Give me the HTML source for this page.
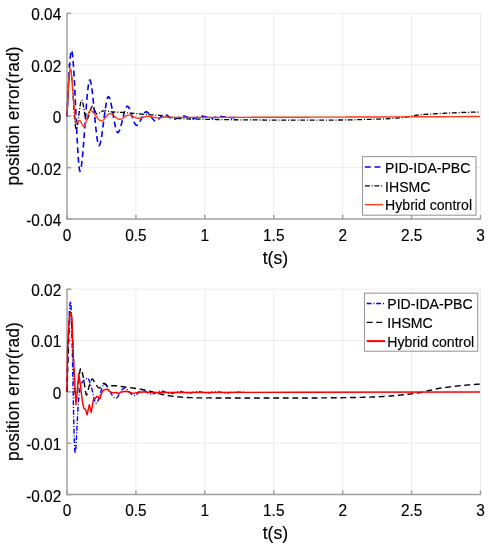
<!DOCTYPE html><html><head><meta charset="utf-8"><style>html,body{margin:0;padding:0;background:#fff;}svg{display:block;will-change:transform;} text{stroke:#000;stroke-width:0.15px;}</style></head><body>
<svg width="489" height="550" viewBox="0 0 489 550" font-family='"Liberation Sans", sans-serif' fill="#000">
<rect width="489" height="550" fill="#fff"/>
<line x1="135.92" y1="13.4" x2="135.92" y2="219.1" stroke="#ececec" stroke-width="1"/>
<line x1="204.83" y1="13.4" x2="204.83" y2="219.1" stroke="#ececec" stroke-width="1"/>
<line x1="273.75" y1="13.4" x2="273.75" y2="219.1" stroke="#ececec" stroke-width="1"/>
<line x1="342.67" y1="13.4" x2="342.67" y2="219.1" stroke="#ececec" stroke-width="1"/>
<line x1="411.58" y1="13.4" x2="411.58" y2="219.1" stroke="#ececec" stroke-width="1"/>
<line x1="480.50" y1="13.4" x2="480.50" y2="219.1" stroke="#ececec" stroke-width="1"/>
<line x1="67.0" y1="13.40" x2="480.5" y2="13.40" stroke="#ececec" stroke-width="1"/>
<line x1="67.0" y1="64.83" x2="480.5" y2="64.83" stroke="#ececec" stroke-width="1"/>
<line x1="67.0" y1="116.25" x2="480.5" y2="116.25" stroke="#ececec" stroke-width="1"/>
<line x1="67.0" y1="167.67" x2="480.5" y2="167.67" stroke="#ececec" stroke-width="1"/>
<line x1="67.0" y1="12.9" x2="67.0" y2="219.6" stroke="#a0a0a0" stroke-width="1.5"/>
<line x1="66.5" y1="219.1" x2="481.0" y2="219.1" stroke="#a0a0a0" stroke-width="1.5"/>
<line x1="67.00" y1="219.1" x2="67.00" y2="214.90" stroke="#a0a0a0" stroke-width="1.5"/>
<line x1="135.92" y1="219.1" x2="135.92" y2="214.90" stroke="#a0a0a0" stroke-width="1.5"/>
<line x1="204.83" y1="219.1" x2="204.83" y2="214.90" stroke="#a0a0a0" stroke-width="1.5"/>
<line x1="273.75" y1="219.1" x2="273.75" y2="214.90" stroke="#a0a0a0" stroke-width="1.5"/>
<line x1="342.67" y1="219.1" x2="342.67" y2="214.90" stroke="#a0a0a0" stroke-width="1.5"/>
<line x1="411.58" y1="219.1" x2="411.58" y2="214.90" stroke="#a0a0a0" stroke-width="1.5"/>
<line x1="480.50" y1="219.1" x2="480.50" y2="214.90" stroke="#a0a0a0" stroke-width="1.5"/>
<line x1="67.0" y1="13.40" x2="71.2" y2="13.40" stroke="#a0a0a0" stroke-width="1.5"/>
<line x1="67.0" y1="64.83" x2="71.2" y2="64.83" stroke="#a0a0a0" stroke-width="1.5"/>
<line x1="67.0" y1="116.25" x2="71.2" y2="116.25" stroke="#a0a0a0" stroke-width="1.5"/>
<line x1="67.0" y1="167.67" x2="71.2" y2="167.67" stroke="#a0a0a0" stroke-width="1.5"/>
<line x1="67.0" y1="219.10" x2="71.2" y2="219.10" stroke="#a0a0a0" stroke-width="1.5"/>
<path d="M67.00,116.25 L67.50,104.37 L68.00,93.28 L68.50,83.14 L69.00,74.10 L69.50,66.29 L70.00,59.88 L70.50,55.00 L71.00,51.80 L71.50,50.44 L72.00,51.20 L72.50,54.26 L73.00,59.35 L73.50,66.15 L74.00,74.35 L74.50,83.65 L75.00,93.75 L75.50,104.34 L76.00,115.11 L76.50,125.76 L77.00,135.98 L77.50,145.47 L78.00,153.92 L78.50,161.02 L79.00,166.47 L79.50,169.97 L80.00,171.20 L80.50,170.51 L81.00,168.54 L81.50,165.44 L82.00,161.36 L82.50,156.42 L83.00,150.79 L83.50,144.61 L84.00,138.02 L84.50,131.17 L85.00,124.20 L85.50,117.27 L86.00,110.50 L86.50,104.06 L87.00,98.08 L87.50,92.71 L88.00,88.10 L88.50,84.39 L89.00,81.72 L89.50,80.25 L90.00,80.09 L90.50,81.08 L91.00,83.06 L91.50,85.90 L92.00,89.47 L92.50,93.65 L93.00,98.32 L93.50,103.33 L94.00,108.58 L94.50,113.92 L95.00,119.24 L95.50,124.41 L96.00,129.30 L96.50,133.78 L97.00,137.74 L97.50,141.03 L98.00,143.54 L98.50,145.14 L99.00,145.70 L99.50,145.30 L100.00,144.15 L100.50,142.35 L101.00,139.98 L101.50,137.13 L102.00,133.89 L102.50,130.35 L103.00,126.59 L103.50,122.72 L104.00,118.80 L104.50,114.94 L105.00,111.22 L105.50,107.74 L106.00,104.57 L106.50,101.81 L107.00,99.54 L107.50,97.86 L108.00,96.86 L108.50,96.61 L109.00,97.02 L109.50,97.96 L110.00,99.37 L110.50,101.19 L111.00,103.34 L111.50,105.76 L112.00,108.40 L112.50,111.17 L113.00,114.03 L113.50,116.89 L114.00,119.71 L114.50,122.40 L115.00,124.92 L115.50,127.19 L116.00,129.15 L116.50,130.72 L117.00,131.86 L117.50,132.49 L118.00,132.57 L118.50,132.19 L119.00,131.44 L119.50,130.37 L120.00,129.01 L120.50,127.41 L121.00,125.63 L121.50,123.71 L122.00,121.68 L122.50,119.61 L123.00,117.53 L123.50,115.49 L124.00,113.54 L124.50,111.73 L125.00,110.09 L125.50,108.68 L126.00,107.55 L126.50,106.73 L127.00,106.28 L127.50,106.23 L128.00,106.51 L128.50,107.09 L129.00,107.92 L129.50,108.95 L130.00,110.17 L130.50,111.52 L131.00,112.98 L131.50,114.51 L132.00,116.06 L132.50,117.61 L133.00,119.11 L133.50,120.53 L134.00,121.84 L134.50,122.98 L135.00,123.94 L135.50,124.67 L136.00,125.14 L136.50,125.30 L137.00,125.20 L137.50,124.91 L138.00,124.45 L138.50,123.84 L139.00,123.11 L139.50,122.28 L140.00,121.36 L140.50,120.39 L141.00,119.37 L141.50,118.34 L142.00,117.32 L142.50,116.32 L143.00,115.36 L143.50,114.48 L144.00,113.68 L144.50,113.00 L145.00,112.45 L145.50,112.06 L146.00,111.84 L146.50,111.81 L147.00,111.95 L147.50,112.22 L148.00,112.61 L148.50,113.10 L149.00,113.68 L149.50,114.32 L150.00,115.01 L150.50,115.73 L151.00,116.47 L151.50,117.21 L152.00,117.93 L152.50,118.61 L153.00,119.24 L153.50,119.80 L154.00,120.28 L154.50,120.64 L155.00,120.89 L155.50,121.00 L156.00,120.96 L156.50,120.82 L157.00,120.57 L157.50,120.24 L158.00,119.84 L158.50,119.39 L159.00,118.89 L159.50,118.36 L160.00,117.81 L160.50,117.26 L161.00,116.72 L161.50,116.21 L162.00,115.73 L162.50,115.31 L163.00,114.95 L163.50,114.67 L164.00,114.48 L164.50,114.40 L165.00,114.43 L165.50,114.54 L166.00,114.73 L166.50,114.99 L167.00,115.29 L167.50,115.65 L168.00,116.03 L168.50,116.44 L169.00,116.86 L169.50,117.28 L170.00,117.69 L170.50,118.08 L171.00,118.44 L171.50,118.76 L172.00,119.02 L172.50,119.22 L173.00,119.35 L173.50,119.40 L174.00,119.37 L174.50,119.29 L175.00,119.17 L175.50,119.00 L176.00,118.81 L176.50,118.58 L177.00,118.34 L177.50,118.08 L178.00,117.81 L178.50,117.54 L179.00,117.27 L179.50,117.01 L180.00,116.77 L180.50,116.55 L181.00,116.36 L181.50,116.20 L182.00,116.09 L182.50,116.02 L183.00,116.00 L183.50,116.03 L184.00,116.09 L184.50,116.19 L185.00,116.32 L185.50,116.47 L186.00,116.64 L186.50,116.82 L187.00,117.02 L187.50,117.22 L188.00,117.42 L188.50,117.62 L189.00,117.82 L189.50,118.00 L190.00,118.16 L190.50,118.31 L191.00,118.43 L191.50,118.52 L192.00,118.58 L192.50,118.60 L193.00,118.58 L193.50,118.51 L194.00,118.41 L194.50,118.28 L195.00,118.13 L195.50,117.95 L196.00,117.76 L196.50,117.56 L197.00,117.35 L197.50,117.14 L198.00,116.94 L198.50,116.75 L199.00,116.57 L199.50,116.42 L200.00,116.29 L200.50,116.19 L201.00,116.12 L201.50,116.10 L202.00,116.12 L202.50,116.16 L203.00,116.23 L203.50,116.32 L204.00,116.43 L204.50,116.55 L205.00,116.68 L205.50,116.83 L206.00,116.98 L206.50,117.12 L207.00,117.27 L207.50,117.42 L208.00,117.55 L208.50,117.67 L209.00,117.78 L209.50,117.87 L210.00,117.94 L210.50,117.98 L211.00,118.00 L211.50,117.99 L212.00,117.95 L212.50,117.88 L213.00,117.80 L213.50,117.70 L214.00,117.59 L214.50,117.46 L215.00,117.33 L215.50,117.20 L216.00,117.07 L216.50,116.94 L217.00,116.81 L217.50,116.70 L218.00,116.60 L218.50,116.52 L219.00,116.45 L219.50,116.41 L220.00,116.40 L220.50,116.41 L221.00,116.44 L221.50,116.49 L222.00,116.55 L222.50,116.63 L223.00,116.71 L223.50,116.80 L224.00,116.90 L224.50,117.00 L225.00,117.10 L225.50,117.20 L226.00,117.29 L226.50,117.37 L227.00,117.45 L227.50,117.51 L228.00,117.56 L228.50,117.59 L229.00,117.60 L229.50,117.60 L230.00,117.60 L230.50,117.60 L231.00,117.60 L231.50,117.59 L232.00,117.59 L232.50,117.59 L233.00,117.58 L233.50,117.57 L234.00,117.56 L234.50,117.54 L235.00,117.53 L235.50,117.51 L236.00,117.49 L236.50,117.46 L237.00,117.43 L237.50,117.39 L238.00,117.36" fill="none" stroke="#0000ff" stroke-width="1.6" stroke-dasharray="5.9,3.7"/>
<path d="M67.00,116.25 L67.50,105.35 L68.00,95.35 L68.50,86.57 L69.00,79.31 L69.50,73.90 L70.00,70.64 L70.50,69.85 L71.00,71.58 L71.50,75.40 L72.00,80.87 L72.50,87.52 L73.00,94.91 L73.50,102.57 L74.00,110.04 L74.50,116.88 L75.00,122.62 L75.50,126.81 L76.00,128.99 L76.50,128.95 L77.00,127.52 L77.50,125.06 L78.00,121.84 L78.50,118.11 L79.00,114.15 L79.50,110.21 L80.00,106.57 L80.50,103.48 L81.00,101.20 L81.50,100.01 L82.00,100.13 L82.50,101.39 L83.00,103.52 L83.50,106.26 L84.00,109.32 L84.50,112.44 L85.00,115.34 L85.50,117.75 L86.00,119.39 L86.50,120.00 L87.00,119.73 L87.50,118.99 L88.00,117.86 L88.50,116.45 L89.00,114.85 L89.50,113.15 L90.00,111.45 L90.50,109.85 L91.00,108.44 L91.50,107.31 L92.00,106.57 L92.50,106.30 L93.00,106.56 L93.50,107.27 L94.00,108.30 L94.50,109.51 L95.00,110.79 L95.50,112.00 L96.00,113.03 L96.50,113.74 L97.00,114.00 L97.50,113.95 L98.00,113.81 L98.50,113.59 L99.00,113.31 L99.50,113.00 L100.00,112.65 L100.50,112.29 L101.00,111.94 L101.50,111.61 L102.00,111.31 L102.50,111.07 L103.00,110.90 L103.50,110.81 L104.00,110.80 L104.50,110.82 L105.00,110.85 L105.50,110.90 L106.00,110.96 L106.50,111.02 L107.00,111.10 L107.50,111.18 L108.00,111.26 L108.50,111.35 L109.00,111.44 L109.50,111.52 L110.00,111.61 L110.50,111.68 L111.00,111.76 L111.50,111.82 L112.00,111.87 L112.50,111.92 L113.00,111.95 L113.50,111.99 L114.00,112.02 L114.50,112.06 L115.00,112.09 L115.50,112.12 L116.00,112.14 L116.50,112.17 L117.00,112.20 L117.50,112.22 L118.00,112.25 L118.50,112.27 L119.00,112.30 L119.50,112.32 L120.00,112.34 L120.50,112.37 L121.00,112.39 L121.50,112.42 L122.00,112.45 L122.50,112.47 L123.00,112.50 L123.50,112.53 L124.00,112.57 L124.50,112.60 L125.00,112.64 L125.50,112.67 L126.00,112.71 L126.50,112.75 L127.00,112.79 L127.50,112.84 L128.00,112.88 L128.50,112.93 L129.00,112.97 L129.50,113.02 L130.00,113.06 L130.50,113.11 L131.00,113.16 L131.50,113.21 L132.00,113.26 L132.50,113.30 L133.00,113.35 L133.50,113.40 L134.00,113.45 L134.50,113.49 L135.00,113.54 L135.50,113.59 L136.00,113.63 L136.50,113.67 L137.00,113.72 L137.50,113.76 L138.00,113.80 L138.50,113.85 L139.00,113.89 L139.50,113.93 L140.00,113.98 L140.50,114.02 L141.00,114.06 L141.50,114.11 L142.00,114.15 L142.50,114.19 L143.00,114.23 L143.50,114.28 L144.00,114.32 L144.50,114.36 L145.00,114.40 L145.50,114.44 L146.00,114.48 L146.50,114.52 L147.00,114.55 L147.50,114.59 L148.00,114.63 L148.50,114.66 L149.00,114.70 L149.50,114.73 L150.00,114.76 L150.50,114.79 L151.00,114.82 L151.50,114.85 L152.00,114.87 L152.50,114.90 L153.00,114.92 L153.50,114.95 L154.00,114.97 L154.50,115.00 L155.00,115.03 L155.50,115.05 L156.00,115.08 L156.50,115.11 L157.00,115.15 L157.50,115.18 L158.00,115.22 L158.50,115.26 L159.00,115.31 L159.50,115.36 L160.00,115.43 L160.50,115.50 L161.00,115.59 L161.50,115.68 L162.00,115.77 L162.50,115.88 L163.00,115.98 L163.50,116.09 L164.00,116.20 L164.50,116.30 L165.00,116.41 L165.50,116.51 L166.00,116.61 L166.50,116.71 L167.00,116.80 L167.50,116.89 L168.00,116.98 L168.50,117.07 L169.00,117.16 L169.50,117.26 L170.00,117.35 L170.50,117.45 L171.00,117.54 L171.50,117.63 L172.00,117.72 L172.50,117.81 L173.00,117.90 L173.50,117.98 L174.00,118.05 L174.50,118.13 L175.00,118.19 L175.50,118.26 L176.00,118.31 L176.50,118.36 L177.00,118.40 L177.50,118.44 L178.00,118.47 L178.50,118.50 L179.00,118.54 L179.50,118.57 L180.00,118.60 L180.50,118.63 L181.00,118.65 L181.50,118.68 L182.00,118.70 L182.50,118.73 L183.00,118.75 L183.50,118.77 L184.00,118.80 L184.50,118.82 L185.00,118.84 L185.50,118.86 L186.00,118.87 L186.50,118.89 L187.00,118.91 L187.50,118.93 L188.00,118.94 L188.50,118.96 L189.00,118.97 L189.50,118.99 L190.00,119.00 L190.50,119.01 L191.00,119.03 L191.50,119.04 L192.00,119.05 L192.50,119.06 L193.00,119.07 L193.50,119.08 L194.00,119.09 L194.50,119.10 L195.00,119.11 L195.50,119.12 L196.00,119.13 L196.50,119.14 L197.00,119.15 L197.50,119.16 L198.00,119.17 L198.50,119.17 L199.00,119.18 L199.50,119.19 L200.00,119.20 L200.50,119.21 L201.00,119.22 L201.50,119.23 L202.00,119.24 L202.50,119.24 L203.00,119.25 L203.50,119.26 L204.00,119.27 L204.50,119.28 L205.00,119.29 L205.50,119.30 L206.00,119.31 L206.50,119.31 L207.00,119.32 L207.50,119.33 L208.00,119.34 L208.50,119.35 L209.00,119.36 L209.50,119.37 L210.00,119.38 L210.50,119.38 L211.00,119.39 L211.50,119.40 L212.00,119.41 L212.50,119.42 L213.00,119.43 L213.50,119.43 L214.00,119.44 L214.50,119.45 L215.00,119.46 L215.50,119.47 L216.00,119.48 L216.50,119.48 L217.00,119.49 L217.50,119.50 L218.00,119.51 L218.50,119.52 L219.00,119.53 L219.50,119.53 L220.00,119.54 L220.50,119.55 L221.00,119.56 L221.50,119.56 L222.00,119.57 L222.50,119.58 L223.00,119.59 L223.50,119.59 L224.00,119.60 L224.50,119.61 L225.00,119.62 L225.50,119.62 L226.00,119.63 L226.50,119.64 L227.00,119.65 L227.50,119.65 L228.00,119.66 L228.50,119.67 L229.00,119.67 L229.50,119.68 L230.00,119.69 L230.50,119.69 L231.00,119.70 L231.50,119.71 L232.00,119.71 L232.50,119.72 L233.00,119.72 L233.50,119.73 L234.00,119.74 L234.50,119.74 L235.00,119.75 L235.50,119.75 L236.00,119.76 L236.50,119.76 L237.00,119.77 L237.50,119.78 L238.00,119.78 L238.50,119.79 L239.00,119.79 L239.50,119.80 L240.00,119.80 L240.50,119.80 L241.00,119.81 L241.50,119.81 L242.00,119.82 L242.50,119.82 L243.00,119.83 L243.50,119.83 L244.00,119.84 L244.50,119.84 L245.00,119.85 L245.50,119.85 L246.00,119.86 L246.50,119.86 L247.00,119.87 L247.50,119.87 L248.00,119.88 L248.50,119.88 L249.00,119.89 L249.50,119.89 L250.00,119.90 L250.50,119.90 L251.00,119.90 L251.50,119.91 L252.00,119.91 L252.50,119.92 L253.00,119.92 L253.50,119.93 L254.00,119.93 L254.50,119.94 L255.00,119.94 L255.50,119.95 L256.00,119.95 L256.50,119.96 L257.00,119.96 L257.50,119.97 L258.00,119.97 L258.50,119.97 L259.00,119.98 L259.50,119.98 L260.00,119.99 L260.50,119.99 L261.00,120.00 L261.50,120.00 L262.00,120.01 L262.50,120.01 L263.00,120.01 L263.50,120.02 L264.00,120.02 L264.50,120.03 L265.00,120.03 L265.50,120.04 L266.00,120.04 L266.50,120.04 L267.00,120.05 L267.50,120.05 L268.00,120.06 L268.50,120.06 L269.00,120.06 L269.50,120.07 L270.00,120.07 L270.50,120.07 L271.00,120.08 L271.50,120.08 L272.00,120.09 L272.50,120.09 L273.00,120.09 L273.50,120.10 L274.00,120.10 L274.50,120.10 L275.00,120.11 L275.50,120.11 L276.00,120.11 L276.50,120.12 L277.00,120.12 L277.50,120.12 L278.00,120.13 L278.50,120.13 L279.00,120.13 L279.50,120.14 L280.00,120.14 L280.50,120.14 L281.00,120.14 L281.50,120.15 L282.00,120.15 L282.50,120.15 L283.00,120.15 L283.50,120.16 L284.00,120.16 L284.50,120.16 L285.00,120.16 L285.50,120.17 L286.00,120.17 L286.50,120.17 L287.00,120.17 L287.50,120.17 L288.00,120.18 L288.50,120.18 L289.00,120.18 L289.50,120.18 L290.00,120.18 L290.50,120.19 L291.00,120.19 L291.50,120.19 L292.00,120.19 L292.50,120.19 L293.00,120.19 L293.50,120.19 L294.00,120.19 L294.50,120.19 L295.00,120.20 L295.50,120.20 L296.00,120.20 L296.50,120.20 L297.00,120.20 L297.50,120.20 L298.00,120.20 L298.50,120.20 L299.00,120.20 L299.50,120.20 L300.00,120.20 L300.50,120.20 L301.00,120.20 L301.50,120.20 L302.00,120.20 L302.50,120.20 L303.00,120.20 L303.50,120.20 L304.00,120.20 L304.50,120.20 L305.00,120.20 L305.50,120.20 L306.00,120.19 L306.50,120.19 L307.00,120.19 L307.50,120.19 L308.00,120.19 L308.50,120.19 L309.00,120.19 L309.50,120.19 L310.00,120.18 L310.50,120.18 L311.00,120.18 L311.50,120.18 L312.00,120.18 L312.50,120.18 L313.00,120.17 L313.50,120.17 L314.00,120.17 L314.50,120.17 L315.00,120.17 L315.50,120.16 L316.00,120.16 L316.50,120.16 L317.00,120.16 L317.50,120.16 L318.00,120.15 L318.50,120.15 L319.00,120.15 L319.50,120.15 L320.00,120.14 L320.50,120.14 L321.00,120.14 L321.50,120.13 L322.00,120.13 L322.50,120.13 L323.00,120.13 L323.50,120.12 L324.00,120.12 L324.50,120.12 L325.00,120.11 L325.50,120.11 L326.00,120.11 L326.50,120.10 L327.00,120.10 L327.50,120.10 L328.00,120.09 L328.50,120.09 L329.00,120.09 L329.50,120.08 L330.00,120.08 L330.50,120.08 L331.00,120.07 L331.50,120.07 L332.00,120.06 L332.50,120.06 L333.00,120.06 L333.50,120.05 L334.00,120.05 L334.50,120.05 L335.00,120.04 L335.50,120.04 L336.00,120.03 L336.50,120.03 L337.00,120.03 L337.50,120.02 L338.00,120.02 L338.50,120.01 L339.00,120.01 L339.50,120.00 L340.00,120.00 L340.50,120.00 L341.00,119.99 L341.50,119.99 L342.00,119.98 L342.50,119.97 L343.00,119.97 L343.50,119.96 L344.00,119.95 L344.50,119.94 L345.00,119.94 L345.50,119.93 L346.00,119.92 L346.50,119.91 L347.00,119.90 L347.50,119.89 L348.00,119.88 L348.50,119.87 L349.00,119.86 L349.50,119.85 L350.00,119.84 L350.50,119.82 L351.00,119.81 L351.50,119.80 L352.00,119.79 L352.50,119.78 L353.00,119.76 L353.50,119.75 L354.00,119.74 L354.50,119.73 L355.00,119.71 L355.50,119.70 L356.00,119.69 L356.50,119.67 L357.00,119.66 L357.50,119.64 L358.00,119.63 L358.50,119.62 L359.00,119.60 L359.50,119.59 L360.00,119.57 L360.50,119.56 L361.00,119.55 L361.50,119.53 L362.00,119.52 L362.50,119.50 L363.00,119.49 L363.50,119.47 L364.00,119.46 L364.50,119.45 L365.00,119.43 L365.50,119.42 L366.00,119.41 L366.50,119.39 L367.00,119.38 L367.50,119.36 L368.00,119.35 L368.50,119.34 L369.00,119.33 L369.50,119.31 L370.00,119.30 L370.50,119.29 L371.00,119.28 L371.50,119.26 L372.00,119.25 L372.50,119.24 L373.00,119.23 L373.50,119.22 L374.00,119.21 L374.50,119.20 L375.00,119.18 L375.50,119.17 L376.00,119.16 L376.50,119.15 L377.00,119.14 L377.50,119.13 L378.00,119.12 L378.50,119.10 L379.00,119.09 L379.50,119.08 L380.00,119.06 L380.50,119.05 L381.00,119.04 L381.50,119.02 L382.00,119.01 L382.50,118.99 L383.00,118.97 L383.50,118.96 L384.00,118.94 L384.50,118.92 L385.00,118.90 L385.50,118.88 L386.00,118.86 L386.50,118.83 L387.00,118.80 L387.50,118.77 L388.00,118.74 L388.50,118.71 L389.00,118.67 L389.50,118.64 L390.00,118.60 L390.50,118.56 L391.00,118.52 L391.50,118.48 L392.00,118.44 L392.50,118.40 L393.00,118.36 L393.50,118.32 L394.00,118.28 L394.50,118.24 L395.00,118.20 L395.50,118.16 L396.00,118.12 L396.50,118.08 L397.00,118.04 L397.50,118.00 L398.00,117.96 L398.50,117.92 L399.00,117.88 L399.50,117.83 L400.00,117.79 L400.50,117.75 L401.00,117.70 L401.50,117.65 L402.00,117.61 L402.50,117.56 L403.00,117.50 L403.50,117.45 L404.00,117.39 L404.50,117.34 L405.00,117.28 L405.50,117.21 L406.00,117.15 L406.50,117.07 L407.00,116.98 L407.50,116.89 L408.00,116.79 L408.50,116.69 L409.00,116.59 L409.50,116.48 L410.00,116.38 L410.50,116.28 L411.00,116.18 L411.50,116.09 L412.00,116.00 L412.50,115.92 L413.00,115.83 L413.50,115.75 L414.00,115.66 L414.50,115.58 L415.00,115.49 L415.50,115.41 L416.00,115.33 L416.50,115.25 L417.00,115.17 L417.50,115.10 L418.00,115.03 L418.50,114.97 L419.00,114.91 L419.50,114.85 L420.00,114.80 L420.50,114.75 L421.00,114.71 L421.50,114.66 L422.00,114.62 L422.50,114.58 L423.00,114.54 L423.50,114.50 L424.00,114.46 L424.50,114.43 L425.00,114.39 L425.50,114.36 L426.00,114.33 L426.50,114.29 L427.00,114.26 L427.50,114.23 L428.00,114.20 L428.50,114.17 L429.00,114.14 L429.50,114.11 L430.00,114.08 L430.50,114.06 L431.00,114.03 L431.50,114.00 L432.00,113.97 L432.50,113.94 L433.00,113.92 L433.50,113.89 L434.00,113.86 L434.50,113.83 L435.00,113.80 L435.50,113.77 L436.00,113.74 L436.50,113.71 L437.00,113.68 L437.50,113.65 L438.00,113.62 L438.50,113.60 L439.00,113.57 L439.50,113.54 L440.00,113.51 L440.50,113.48 L441.00,113.46 L441.50,113.43 L442.00,113.40 L442.50,113.37 L443.00,113.35 L443.50,113.32 L444.00,113.30 L444.50,113.27 L445.00,113.24 L445.50,113.22 L446.00,113.19 L446.50,113.17 L447.00,113.14 L447.50,113.12 L448.00,113.09 L448.50,113.07 L449.00,113.05 L449.50,113.02 L450.00,113.00 L450.50,112.98 L451.00,112.95 L451.50,112.93 L452.00,112.91 L452.50,112.89 L453.00,112.87 L453.50,112.84 L454.00,112.82 L454.50,112.80 L455.00,112.78 L455.50,112.76 L456.00,112.74 L456.50,112.72 L457.00,112.70 L457.50,112.68 L458.00,112.66 L458.50,112.64 L459.00,112.62 L459.50,112.60 L460.00,112.58 L460.50,112.56 L461.00,112.54 L461.50,112.52 L462.00,112.50 L462.50,112.49 L463.00,112.47 L463.50,112.45 L464.00,112.43 L464.50,112.42 L465.00,112.40 L465.50,112.38 L466.00,112.37 L466.50,112.35 L467.00,112.34 L467.50,112.32 L468.00,112.30 L468.50,112.29 L469.00,112.27 L469.50,112.26 L470.00,112.24 L470.50,112.23 L471.00,112.21 L471.50,112.20 L472.00,112.18 L472.50,112.17 L473.00,112.16 L473.50,112.14 L474.00,112.13 L474.50,112.12 L475.00,112.10 L475.50,112.09 L476.00,112.08 L476.50,112.07 L477.00,112.05 L477.50,112.04 L478.00,112.03 L478.50,112.02 L479.00,112.01 L479.30,112.00" fill="none" stroke="#000" stroke-width="1.3" stroke-dasharray="4.9,1.9,1.0,1.7" stroke-dashoffset="3.46"/>
<path d="M67.00,116.25 L67.50,105.19 L68.00,94.88 L68.50,85.75 L69.00,78.20 L69.50,72.66 L70.00,69.54 L70.50,69.18 L71.00,71.04 L71.50,74.64 L72.00,79.59 L72.50,85.52 L73.00,92.05 L73.50,98.81 L74.00,105.41 L74.50,111.49 L75.00,116.67 L75.50,120.57 L76.00,122.81 L76.50,123.17 L77.00,122.88 L77.50,122.36 L78.00,121.74 L78.50,121.13 L79.00,120.64 L79.50,120.41 L80.00,120.56 L80.50,121.15 L81.00,122.05 L81.50,123.12 L82.00,124.22 L82.50,125.24 L83.00,126.03 L83.50,126.46 L84.00,126.40 L84.50,125.83 L85.00,124.84 L85.50,123.50 L86.00,121.91 L86.50,120.15 L87.00,118.32 L87.50,116.49 L88.00,114.76 L88.50,113.21 L89.00,111.93 L89.50,111.02 L90.00,110.54 L90.50,110.52 L91.00,110.65 L91.50,110.89 L92.00,111.22 L92.50,111.64 L93.00,112.12 L93.50,112.68 L94.00,113.28 L94.50,113.92 L95.00,114.59 L95.50,115.28 L96.00,115.98 L96.50,116.67 L97.00,117.35 L97.50,118.00 L98.00,118.61 L98.50,119.17 L99.00,119.67 L99.50,120.10 L100.00,120.45 L100.50,120.71 L101.00,120.86 L101.50,120.90 L102.00,120.79 L102.50,120.56 L103.00,120.21 L103.50,119.76 L104.00,119.23 L104.50,118.65 L105.00,118.03 L105.50,117.38 L106.00,116.73 L106.50,116.09 L107.00,115.49 L107.50,114.94 L108.00,114.46 L108.50,114.07 L109.00,113.79 L109.50,113.63 L110.00,113.61 L110.50,113.68 L111.00,113.83 L111.50,114.05 L112.00,114.32 L112.50,114.64 L113.00,115.00 L113.50,115.39 L114.00,115.81 L114.50,116.23 L115.00,116.67 L115.50,117.09 L116.00,117.51 L116.50,117.90 L117.00,118.26 L117.50,118.58 L118.00,118.85 L118.50,119.07 L119.00,119.22 L119.50,119.29 L120.00,119.29 L120.50,119.21 L121.00,119.06 L121.50,118.86 L122.00,118.62 L122.50,118.33 L123.00,118.02 L123.50,117.69 L124.00,117.34 L124.50,116.99 L125.00,116.65 L125.50,116.32 L126.00,116.01 L126.50,115.73 L127.00,115.49 L127.50,115.30 L128.00,115.17 L128.50,115.11 L129.00,115.11 L129.50,115.16 L130.00,115.25 L130.50,115.38 L131.00,115.53 L131.50,115.71 L132.00,115.92 L132.50,116.14 L133.00,116.37 L133.50,116.60 L134.00,116.84 L134.50,117.07 L135.00,117.30 L135.50,117.51 L136.00,117.70 L136.50,117.87 L137.00,118.00 L137.50,118.11 L138.00,118.18 L138.50,118.20 L139.00,118.19 L139.50,118.14 L140.00,118.08 L140.50,117.99 L141.00,117.89 L141.50,117.77 L142.00,117.64 L142.50,117.50 L143.00,117.35 L143.50,117.21 L144.00,117.06 L144.50,116.92 L145.00,116.78 L145.50,116.66 L146.00,116.55 L146.50,116.45 L147.00,116.38 L147.50,116.33 L148.00,116.30 L148.50,116.30 L149.00,116.33 L149.50,116.39 L150.00,116.46 L150.50,116.55 L151.00,116.65 L151.50,116.76 L152.00,116.88 L152.50,117.01 L153.00,117.14 L153.50,117.27 L154.00,117.39 L154.50,117.51 L155.00,117.62 L155.50,117.71 L156.00,117.79 L156.50,117.85 L157.00,117.89 L157.50,117.90 L158.00,117.89 L158.50,117.87 L159.00,117.83 L159.50,117.79 L160.00,117.73 L160.50,117.67 L161.00,117.60 L161.50,117.54 L162.00,117.46 L162.50,117.40 L163.00,117.33 L163.50,117.27 L164.00,117.21 L164.50,117.17 L165.00,117.13 L165.50,117.11 L166.00,117.10 L166.50,117.10 L167.00,117.11 L167.50,117.12 L168.00,117.13 L168.50,117.15 L169.00,117.16 L169.50,117.18 L170.00,117.21 L170.50,117.23 L171.00,117.25 L171.50,117.27 L172.00,117.29 L172.50,117.32 L173.00,117.34 L173.50,117.35 L174.00,117.37 L174.50,117.38 L175.00,117.39 L175.50,117.40 L176.00,117.40 L176.50,117.40 L177.00,117.40 L177.50,117.40 L178.00,117.40 L178.50,117.40 L179.00,117.40 L179.50,117.40 L180.00,117.40 L180.50,117.40 L181.00,117.40 L181.50,117.40 L182.00,117.40 L182.50,117.40 L183.00,117.40 L183.50,117.40 L184.00,117.40 L184.50,117.40 L185.00,117.40 L185.50,117.40 L186.00,117.40 L186.50,117.40 L187.00,117.40 L187.50,117.40 L188.00,117.40 L188.50,117.40 L189.00,117.40 L189.50,117.40 L190.00,117.40 L190.50,117.40 L191.00,117.40 L191.50,117.40 L192.00,117.40 L192.50,117.40 L193.00,117.40 L193.50,117.40 L194.00,117.40 L194.50,117.40 L195.00,117.40 L195.50,117.40 L196.00,117.40 L196.50,117.40 L197.00,117.40 L197.50,117.40 L198.00,117.40 L198.50,117.40 L199.00,117.40 L199.50,117.40 L200.00,117.40 L200.50,117.40 L201.00,117.40 L201.50,117.40 L202.00,117.40 L202.50,117.40 L203.00,117.40 L203.50,117.40 L204.00,117.40 L204.50,117.40 L205.00,117.40 L205.50,117.40 L206.00,117.40 L206.50,117.40 L207.00,117.40 L207.50,117.40 L208.00,117.40 L208.50,117.40 L209.00,117.40 L209.50,117.40 L210.00,117.40 L210.50,117.40 L211.00,117.40 L211.50,117.40 L212.00,117.40 L212.50,117.39 L213.00,117.39 L213.50,117.39 L214.00,117.39 L214.50,117.39 L215.00,117.39 L215.50,117.39 L216.00,117.39 L216.50,117.39 L217.00,117.39 L217.50,117.39 L218.00,117.39 L218.50,117.39 L219.00,117.39 L219.50,117.39 L220.00,117.39 L220.50,117.39 L221.00,117.39 L221.50,117.38 L222.00,117.38 L222.50,117.38 L223.00,117.38 L223.50,117.38 L224.00,117.38 L224.50,117.38 L225.00,117.38 L225.50,117.38 L226.00,117.38 L226.50,117.38 L227.00,117.38 L227.50,117.38 L228.00,117.38 L228.50,117.37 L229.00,117.37 L229.50,117.37 L230.00,117.37 L230.50,117.37 L231.00,117.37 L231.50,117.37 L232.00,117.37 L232.50,117.37 L233.00,117.37 L233.50,117.37 L234.00,117.36 L234.50,117.36 L235.00,117.36 L235.50,117.36 L236.00,117.36 L236.50,117.36 L237.00,117.36 L237.50,117.36 L238.00,117.36 L238.50,117.36 L239.00,117.35 L239.50,117.35 L240.00,117.35 L240.50,117.35 L241.00,117.35 L241.50,117.35 L242.00,117.35 L242.50,117.35 L243.00,117.35 L243.50,117.34 L244.00,117.34 L244.50,117.34 L245.00,117.34 L245.50,117.34 L246.00,117.34 L246.50,117.34 L247.00,117.34 L247.50,117.34 L248.00,117.33 L248.50,117.33 L249.00,117.33 L249.50,117.33 L250.00,117.33 L250.50,117.33 L251.00,117.33 L251.50,117.33 L252.00,117.32 L252.50,117.32 L253.00,117.32 L253.50,117.32 L254.00,117.32 L254.50,117.32 L255.00,117.32 L255.50,117.32 L256.00,117.31 L256.50,117.31 L257.00,117.31 L257.50,117.31 L258.00,117.31 L258.50,117.31 L259.00,117.31 L259.50,117.31 L260.00,117.30 L260.50,117.30 L261.00,117.30 L261.50,117.30 L262.00,117.30 L262.50,117.30 L263.00,117.30 L263.50,117.30 L264.00,117.29 L264.50,117.29 L265.00,117.29 L265.50,117.29 L266.00,117.29 L266.50,117.29 L267.00,117.29 L267.50,117.28 L268.00,117.28 L268.50,117.28 L269.00,117.28 L269.50,117.28 L270.00,117.28 L270.50,117.28 L271.00,117.28 L271.50,117.27 L272.00,117.27 L272.50,117.27 L273.00,117.27 L273.50,117.27 L274.00,117.27 L274.50,117.27 L275.00,117.26 L275.50,117.26 L276.00,117.26 L276.50,117.26 L277.00,117.26 L277.50,117.26 L278.00,117.26 L278.50,117.26 L279.00,117.25 L279.50,117.25 L280.00,117.25 L280.50,117.25 L281.00,117.25 L281.50,117.25 L282.00,117.25 L282.50,117.24 L283.00,117.24 L283.50,117.24 L284.00,117.24 L284.50,117.24 L285.00,117.24 L285.50,117.24 L286.00,117.24 L286.50,117.23 L287.00,117.23 L287.50,117.23 L288.00,117.23 L288.50,117.23 L289.00,117.23 L289.50,117.23 L290.00,117.22 L290.50,117.22 L291.00,117.22 L291.50,117.22 L292.00,117.22 L292.50,117.22 L293.00,117.22 L293.50,117.22 L294.00,117.21 L294.50,117.21 L295.00,117.21 L295.50,117.21 L296.00,117.21 L296.50,117.21 L297.00,117.21 L297.50,117.21 L298.00,117.20 L298.50,117.20 L299.00,117.20 L299.50,117.20 L300.00,117.20 L300.50,117.20 L301.00,117.20 L301.50,117.20 L302.00,117.20 L302.50,117.19 L303.00,117.19 L303.50,117.19 L304.00,117.19 L304.50,117.19 L305.00,117.19 L305.50,117.19 L306.00,117.19 L306.50,117.18 L307.00,117.18 L307.50,117.18 L308.00,117.18 L308.50,117.18 L309.00,117.18 L309.50,117.18 L310.00,117.18 L310.50,117.17 L311.00,117.17 L311.50,117.17 L312.00,117.17 L312.50,117.17 L313.00,117.17 L313.50,117.17 L314.00,117.17 L314.50,117.16 L315.00,117.16 L315.50,117.16 L316.00,117.16 L316.50,117.16 L317.00,117.16 L317.50,117.16 L318.00,117.16 L318.50,117.15 L319.00,117.15 L319.50,117.15 L320.00,117.15 L320.50,117.15 L321.00,117.15 L321.50,117.15 L322.00,117.14 L322.50,117.14 L323.00,117.14 L323.50,117.14 L324.00,117.14 L324.50,117.14 L325.00,117.14 L325.50,117.14 L326.00,117.13 L326.50,117.13 L327.00,117.13 L327.50,117.13 L328.00,117.13 L328.50,117.13 L329.00,117.13 L329.50,117.12 L330.00,117.12 L330.50,117.12 L331.00,117.12 L331.50,117.12 L332.00,117.12 L332.50,117.12 L333.00,117.11 L333.50,117.11 L334.00,117.11 L334.50,117.11 L335.00,117.11 L335.50,117.11 L336.00,117.11 L336.50,117.10 L337.00,117.10 L337.50,117.10 L338.00,117.10 L338.50,117.10 L339.00,117.10 L339.50,117.10 L340.00,117.09 L340.50,117.09 L341.00,117.09 L341.50,117.09 L342.00,117.09 L342.50,117.09 L343.00,117.09 L343.50,117.08 L344.00,117.08 L344.50,117.08 L345.00,117.08 L345.50,117.08 L346.00,117.08 L346.50,117.07 L347.00,117.07 L347.50,117.07 L348.00,117.07 L348.50,117.07 L349.00,117.07 L349.50,117.07 L350.00,117.06 L350.50,117.06 L351.00,117.06 L351.50,117.06 L352.00,117.06 L352.50,117.06 L353.00,117.06 L353.50,117.05 L354.00,117.05 L354.50,117.05 L355.00,117.05 L355.50,117.05 L356.00,117.05 L356.50,117.04 L357.00,117.04 L357.50,117.04 L358.00,117.04 L358.50,117.04 L359.00,117.04 L359.50,117.03 L360.00,117.03 L360.50,117.03 L361.00,117.03 L361.50,117.03 L362.00,117.03 L362.50,117.02 L363.00,117.02 L363.50,117.02 L364.00,117.02 L364.50,117.02 L365.00,117.02 L365.50,117.01 L366.00,117.01 L366.50,117.01 L367.00,117.01 L367.50,117.01 L368.00,117.01 L368.50,117.01 L369.00,117.00 L369.50,117.00 L370.00,117.00 L370.50,117.00 L371.00,117.00 L371.50,116.99 L372.00,116.99 L372.50,116.99 L373.00,116.99 L373.50,116.99 L374.00,116.99 L374.50,116.98 L375.00,116.98 L375.50,116.98 L376.00,116.98 L376.50,116.98 L377.00,116.98 L377.50,116.97 L378.00,116.97 L378.50,116.97 L379.00,116.97 L379.50,116.97 L380.00,116.96 L380.50,116.96 L381.00,116.96 L381.50,116.96 L382.00,116.96 L382.50,116.96 L383.00,116.95 L383.50,116.95 L384.00,116.95 L384.50,116.95 L385.00,116.95 L385.50,116.94 L386.00,116.94 L386.50,116.94 L387.00,116.94 L387.50,116.94 L388.00,116.93 L388.50,116.93 L389.00,116.93 L389.50,116.93 L390.00,116.93 L390.50,116.92 L391.00,116.92 L391.50,116.92 L392.00,116.92 L392.50,116.92 L393.00,116.91 L393.50,116.91 L394.00,116.91 L394.50,116.91 L395.00,116.91 L395.50,116.90 L396.00,116.90 L396.50,116.90 L397.00,116.90 L397.50,116.90 L398.00,116.89 L398.50,116.89 L399.00,116.89 L399.50,116.89 L400.00,116.89 L400.50,116.88 L401.00,116.88 L401.50,116.88 L402.00,116.88 L402.50,116.88 L403.00,116.87 L403.50,116.87 L404.00,116.87 L404.50,116.87 L405.00,116.87 L405.50,116.86 L406.00,116.86 L406.50,116.86 L407.00,116.86 L407.50,116.85 L408.00,116.85 L408.50,116.85 L409.00,116.85 L409.50,116.85 L410.00,116.84 L410.50,116.84 L411.00,116.84 L411.50,116.84 L412.00,116.84 L412.50,116.83 L413.00,116.83 L413.50,116.83 L414.00,116.83 L414.50,116.82 L415.00,116.82 L415.50,116.82 L416.00,116.82 L416.50,116.82 L417.00,116.81 L417.50,116.81 L418.00,116.81 L418.50,116.81 L419.00,116.80 L419.50,116.80 L420.00,116.80 L420.50,116.80 L421.00,116.80 L421.50,116.79 L422.00,116.79 L422.50,116.79 L423.00,116.79 L423.50,116.78 L424.00,116.78 L424.50,116.78 L425.00,116.78 L425.50,116.78 L426.00,116.77 L426.50,116.77 L427.00,116.77 L427.50,116.77 L428.00,116.76 L428.50,116.76 L429.00,116.76 L429.50,116.76 L430.00,116.75 L430.50,116.75 L431.00,116.75 L431.50,116.75 L432.00,116.75 L432.50,116.74 L433.00,116.74 L433.50,116.74 L434.00,116.74 L434.50,116.73 L435.00,116.73 L435.50,116.73 L436.00,116.73 L436.50,116.72 L437.00,116.72 L437.50,116.72 L438.00,116.72 L438.50,116.71 L439.00,116.71 L439.50,116.71 L440.00,116.71 L440.50,116.71 L441.00,116.70 L441.50,116.70 L442.00,116.70 L442.50,116.70 L443.00,116.69 L443.50,116.69 L444.00,116.69 L444.50,116.69 L445.00,116.68 L445.50,116.68 L446.00,116.68 L446.50,116.68 L447.00,116.67 L447.50,116.67 L448.00,116.67 L448.50,116.67 L449.00,116.66 L449.50,116.66 L450.00,116.66 L450.50,116.66 L451.00,116.65 L451.50,116.65 L452.00,116.65 L452.50,116.65 L453.00,116.64 L453.50,116.64 L454.00,116.64 L454.50,116.64 L455.00,116.63 L455.50,116.63 L456.00,116.63 L456.50,116.63 L457.00,116.62 L457.50,116.62 L458.00,116.62 L458.50,116.62 L459.00,116.61 L459.50,116.61 L460.00,116.61 L460.50,116.60 L461.00,116.60 L461.50,116.60 L462.00,116.60 L462.50,116.59 L463.00,116.59 L463.50,116.59 L464.00,116.59 L464.50,116.58 L465.00,116.58 L465.50,116.58 L466.00,116.58 L466.50,116.57 L467.00,116.57 L467.50,116.57 L468.00,116.57 L468.50,116.56 L469.00,116.56 L469.50,116.56 L470.00,116.55 L470.50,116.55 L471.00,116.55 L471.50,116.55 L472.00,116.54 L472.50,116.54 L473.00,116.54 L473.50,116.54 L474.00,116.53 L474.50,116.53 L475.00,116.53 L475.50,116.52 L476.00,116.52 L476.50,116.52 L477.00,116.52 L477.50,116.51 L478.00,116.51 L478.50,116.51 L479.00,116.51 L479.50,116.50 L480.00,116.50" fill="none" stroke="#ff3a14" stroke-width="1.4"/>
<text transform="translate(61.2,20.30) scale(1,1.05)" text-anchor="end" font-size="15.4">0.04</text>
<text transform="translate(61.2,71.73) scale(1,1.05)" text-anchor="end" font-size="15.4">0.02</text>
<text transform="translate(61.2,123.15) scale(1,1.05)" text-anchor="end" font-size="15.4">0</text>
<text transform="translate(61.2,174.57) scale(1,1.05)" text-anchor="end" font-size="15.4">-0.02</text>
<text transform="translate(61.2,226.00) scale(1,1.05)" text-anchor="end" font-size="15.4">-0.04</text>
<text transform="translate(67.00,240.60) scale(1,1.07)" text-anchor="middle" font-size="15.4">0</text>
<text transform="translate(135.92,240.60) scale(1,1.07)" text-anchor="middle" font-size="15.4">0.5</text>
<text transform="translate(204.83,240.60) scale(1,1.07)" text-anchor="middle" font-size="15.4">1</text>
<text transform="translate(273.75,240.60) scale(1,1.07)" text-anchor="middle" font-size="15.4">1.5</text>
<text transform="translate(342.67,240.60) scale(1,1.07)" text-anchor="middle" font-size="15.4">2</text>
<text transform="translate(411.58,240.60) scale(1,1.07)" text-anchor="middle" font-size="15.4">2.5</text>
<text transform="translate(480.50,240.60) scale(1,1.07)" text-anchor="middle" font-size="15.4">3</text>
<text transform="translate(275.4,263.80) scale(1,1.06)" text-anchor="middle" font-size="17.7">t(s)</text>
<text transform="translate(18.6,115.95) rotate(-90) scale(1,1.07)" text-anchor="middle" font-size="17.5">position error(rad)</text>
<rect x="362.5" y="156.6" width="113.5" height="58.6" fill="#fff" stroke="#9a9a9a" stroke-width="1.1"/>
<line x1="364.9" y1="167.0" x2="383.2" y2="167.0" stroke="#0000ff" stroke-width="1.7" stroke-dasharray="5.9,3.7"/>
<line x1="364.9" y1="185.9" x2="383.2" y2="185.9" stroke="#000" stroke-width="1.3" stroke-dasharray="4.9,1.9,1.0,1.7"/>
<line x1="364.9" y1="204.6" x2="383.2" y2="204.6" stroke="#ff3a14" stroke-width="1.4"/>
<text x="385.1" y="172.80" font-size="14.1">PID-IDA-PBC</text>
<text x="385.1" y="191.70" font-size="14.1">IHSMC</text>
<text x="385.1" y="210.40" font-size="14.1">Hybrid control</text>
<line x1="135.92" y1="289.2" x2="135.92" y2="494.6" stroke="#ececec" stroke-width="1"/>
<line x1="204.83" y1="289.2" x2="204.83" y2="494.6" stroke="#ececec" stroke-width="1"/>
<line x1="273.75" y1="289.2" x2="273.75" y2="494.6" stroke="#ececec" stroke-width="1"/>
<line x1="342.67" y1="289.2" x2="342.67" y2="494.6" stroke="#ececec" stroke-width="1"/>
<line x1="411.58" y1="289.2" x2="411.58" y2="494.6" stroke="#ececec" stroke-width="1"/>
<line x1="480.50" y1="289.2" x2="480.50" y2="494.6" stroke="#ececec" stroke-width="1"/>
<line x1="67.0" y1="289.20" x2="480.5" y2="289.20" stroke="#ececec" stroke-width="1"/>
<line x1="67.0" y1="340.55" x2="480.5" y2="340.55" stroke="#ececec" stroke-width="1"/>
<line x1="67.0" y1="391.90" x2="480.5" y2="391.90" stroke="#ececec" stroke-width="1"/>
<line x1="67.0" y1="443.25" x2="480.5" y2="443.25" stroke="#ececec" stroke-width="1"/>
<line x1="67.0" y1="288.7" x2="67.0" y2="495.1" stroke="#a0a0a0" stroke-width="1.5"/>
<line x1="66.5" y1="494.6" x2="481.0" y2="494.6" stroke="#a0a0a0" stroke-width="1.5"/>
<line x1="67.00" y1="494.6" x2="67.00" y2="490.40" stroke="#a0a0a0" stroke-width="1.5"/>
<line x1="135.92" y1="494.6" x2="135.92" y2="490.40" stroke="#a0a0a0" stroke-width="1.5"/>
<line x1="204.83" y1="494.6" x2="204.83" y2="490.40" stroke="#a0a0a0" stroke-width="1.5"/>
<line x1="273.75" y1="494.6" x2="273.75" y2="490.40" stroke="#a0a0a0" stroke-width="1.5"/>
<line x1="342.67" y1="494.6" x2="342.67" y2="490.40" stroke="#a0a0a0" stroke-width="1.5"/>
<line x1="411.58" y1="494.6" x2="411.58" y2="490.40" stroke="#a0a0a0" stroke-width="1.5"/>
<line x1="480.50" y1="494.6" x2="480.50" y2="490.40" stroke="#a0a0a0" stroke-width="1.5"/>
<line x1="67.0" y1="289.20" x2="71.2" y2="289.20" stroke="#a0a0a0" stroke-width="1.5"/>
<line x1="67.0" y1="340.55" x2="71.2" y2="340.55" stroke="#a0a0a0" stroke-width="1.5"/>
<line x1="67.0" y1="391.90" x2="71.2" y2="391.90" stroke="#a0a0a0" stroke-width="1.5"/>
<line x1="67.0" y1="443.25" x2="71.2" y2="443.25" stroke="#a0a0a0" stroke-width="1.5"/>
<line x1="67.0" y1="494.60" x2="71.2" y2="494.60" stroke="#a0a0a0" stroke-width="1.5"/>
<path d="M67.00,391.90 L67.50,368.04 L68.00,347.91 L68.50,331.46 L69.00,318.62 L69.50,309.33 L70.00,303.53 L70.50,301.17 L71.00,304.50 L71.50,316.96 L72.00,336.20 L72.50,359.70 L73.00,384.96 L73.50,409.47 L74.00,430.72 L74.50,446.19 L75.00,453.38 L75.50,452.02 L76.00,446.31 L76.50,437.71 L77.00,427.54 L77.50,417.14 L78.00,407.84 L78.50,400.96 L79.00,396.52 L79.50,392.48 L80.00,388.98 L80.50,386.25 L81.00,384.50 L81.50,383.43 L82.00,382.56 L82.50,381.85 L83.00,381.27 L83.50,380.76 L84.00,380.30 L84.50,379.84 L85.00,379.38 L85.50,378.95 L86.00,378.57 L86.50,378.27 L87.00,378.07 L87.50,378.00 L88.00,378.28 L88.50,379.03 L89.00,380.15 L89.50,381.51 L90.00,383.02 L90.50,384.55 L91.00,386.00 L91.50,387.60 L92.00,389.57 L92.50,391.79 L93.00,394.13 L93.50,396.46 L94.00,398.65 L94.50,400.58 L95.00,402.12 L95.50,403.13 L96.00,403.50 L96.50,403.30 L97.00,402.75 L97.50,401.88 L98.00,400.75 L98.50,399.41 L99.00,397.90 L99.50,396.28 L100.00,394.59 L100.50,392.87 L101.00,391.19 L101.50,389.59 L102.00,388.11 L102.50,386.80 L103.00,385.72 L103.50,384.91 L104.00,384.43 L104.50,384.30 L105.00,384.42 L105.50,384.68 L106.00,385.08 L106.50,385.60 L107.00,386.23 L107.50,386.95 L108.00,387.74 L108.50,388.59 L109.00,389.48 L109.50,390.41 L110.00,391.34 L110.50,392.28 L111.00,393.20 L111.50,394.09 L112.00,394.93 L112.50,395.70 L113.00,396.40 L113.50,397.01 L114.00,397.51 L114.50,397.88 L115.00,398.12 L115.50,398.20 L116.00,398.11 L116.50,397.84 L117.00,397.43 L117.50,396.89 L118.00,396.24 L118.50,395.50 L119.00,394.71 L119.50,393.87 L120.00,393.01 L120.50,392.16 L121.00,391.33 L121.50,390.54 L122.00,389.83 L122.50,389.20 L123.00,388.68 L123.50,388.29 L124.00,388.06 L124.50,388.00 L125.00,388.08 L125.50,388.27 L126.00,388.54 L126.50,388.90 L127.00,389.33 L127.50,389.81 L128.00,390.33 L128.50,390.89 L129.00,391.46 L129.50,392.04 L130.00,392.61 L130.50,393.17 L131.00,393.69 L131.50,394.17 L132.00,394.60 L132.50,394.96 L133.00,395.23 L133.50,395.42 L134.00,395.50 L134.50,395.46 L135.00,395.32 L135.50,395.08 L136.00,394.76 L136.50,394.38 L137.00,393.95 L137.50,393.48 L138.00,393.00 L138.50,392.50 L139.00,392.02 L139.50,391.56 L140.00,391.14 L140.50,390.77 L141.00,390.46 L141.50,390.24 L142.00,390.12 L142.50,390.11 L143.00,390.17 L143.50,390.30 L144.00,390.48 L144.50,390.72 L145.00,390.99 L145.50,391.29 L146.00,391.61 L146.50,391.95 L147.00,392.29 L147.50,392.62 L148.00,392.95 L148.50,393.26 L149.00,393.53 L149.50,393.77 L150.00,393.97 L150.50,394.11 L151.00,394.19 L151.50,394.20 L152.00,394.15 L152.50,394.06 L153.00,393.93 L153.50,393.76 L154.00,393.57 L154.50,393.36 L155.00,393.12 L155.50,392.88 L156.00,392.63 L156.50,392.37 L157.00,392.13 L157.50,391.89 L158.00,391.67 L158.50,391.47 L159.00,391.30 L159.50,391.16 L160.00,391.06 L160.50,391.01 L161.00,391.00 L161.50,391.03 L162.00,391.10 L162.50,391.19 L163.00,391.30 L163.50,391.44 L164.00,391.59 L164.50,391.76 L165.00,391.93 L165.50,392.11 L166.00,392.29 L166.50,392.47 L167.00,392.64 L167.50,392.81 L168.00,392.96 L168.50,393.10 L169.00,393.21 L169.50,393.30 L170.00,393.37 L170.50,393.40 L171.00,393.39 L171.50,393.36 L172.00,393.29 L172.50,393.20 L173.00,393.09 L173.50,392.96 L174.00,392.82 L174.50,392.67 L175.00,392.51 L175.50,392.36 L176.00,392.20 L176.50,392.05 L177.00,391.91 L177.50,391.79 L178.00,391.68 L178.50,391.59 L179.00,391.53 L179.50,391.50 L180.00,391.51 L180.50,391.54 L181.00,391.61 L181.50,391.71 L182.00,391.82 L182.50,391.95 L183.00,392.09 L183.50,392.24 L184.00,392.40 L184.50,392.55 L185.00,392.69 L185.50,392.83 L186.00,392.95 L186.50,393.05 L187.00,393.13 L187.50,393.18 L188.00,393.20 L188.50,393.19 L189.00,393.15 L189.50,393.10 L190.00,393.02 L190.50,392.94 L191.00,392.84 L191.50,392.73 L192.00,392.61 L192.50,392.49 L193.00,392.36 L193.50,392.24 L194.00,392.12 L194.50,392.01 L195.00,391.90 L195.50,391.81 L196.00,391.73 L196.50,391.67 L197.00,391.62 L197.50,391.60 L198.00,391.60 L198.50,391.63 L199.00,391.67 L199.50,391.74 L200.00,391.81 L200.50,391.90 L201.00,392.00 L201.50,392.11 L202.00,392.22 L202.50,392.33 L203.00,392.45 L203.50,392.55 L204.00,392.66 L204.50,392.75 L205.00,392.83 L205.50,392.90 L206.00,392.95 L206.50,392.99 L207.00,393.00 L207.50,392.99 L208.00,392.96 L208.50,392.91 L209.00,392.85 L209.50,392.77 L210.00,392.69 L210.50,392.60 L211.00,392.50 L211.50,392.40 L212.00,392.30 L212.50,392.20 L213.00,392.11 L213.50,392.03 L214.00,391.95 L214.50,391.89 L215.00,391.84 L215.50,391.81 L216.00,391.80 L216.50,391.81 L217.00,391.83 L217.50,391.86 L218.00,391.90 L218.50,391.96 L219.00,392.02 L219.50,392.08 L220.00,392.15 L220.50,392.23 L221.00,392.30 L221.50,392.37 L222.00,392.45 L222.50,392.52 L223.00,392.58 L223.50,392.64 L224.00,392.70 L224.50,392.74 L225.00,392.77 L225.50,392.79 L226.00,392.80 L226.50,392.79 L227.00,392.78 L227.50,392.76 L228.00,392.73 L228.50,392.69 L229.00,392.65 L229.50,392.60 L230.00,392.55 L230.50,392.50 L231.00,392.45 L231.50,392.40 L232.00,392.35 L232.50,392.30 L233.00,392.25 L233.50,392.21 L234.00,392.17 L234.50,392.14 L235.00,392.12 L235.50,392.11 L236.00,392.10 L236.50,392.10 L237.00,392.10 L237.50,392.10 L238.00,392.10 L238.50,392.11 L239.00,392.11 L239.50,392.11 L240.00,392.12 L240.50,392.13 L241.00,392.14 L241.50,392.15 L242.00,392.16 L242.50,392.18 L243.00,392.19 L243.50,392.21 L244.00,392.24 L244.50,392.26 L245.00,392.29 L245.50,392.32 L246.00,392.36" fill="none" stroke="#0000ff" stroke-width="1.4" stroke-dasharray="4.9,1.9,1.0,1.7"/>
<path d="M67.00,391.90 L67.50,373.99 L68.00,357.65 L68.50,343.27 L69.00,331.23 L69.50,321.93 L70.00,315.75 L70.50,313.08 L71.00,314.36 L71.50,319.44 L72.00,327.51 L72.50,337.73 L73.00,349.28 L73.50,361.32 L74.00,373.04 L74.50,383.59 L75.00,392.15 L75.50,397.90 L76.00,400.00 L76.50,399.01 L77.00,396.34 L77.50,392.45 L78.00,387.78 L78.50,382.80 L79.00,377.95 L79.50,373.70 L80.00,370.48 L80.50,368.77 L81.00,368.79 L81.50,369.80 L82.00,371.48 L82.50,373.54 L83.00,375.74 L83.50,377.92 L84.00,380.94 L84.50,384.60 L85.00,388.36 L85.50,391.70 L86.00,394.09 L86.50,395.00 L87.00,394.44 L87.50,392.99 L88.00,390.98 L88.50,388.75 L89.00,386.64 L89.50,385.00 L90.00,383.62 L90.50,382.18 L91.00,380.84 L91.50,379.76 L92.00,379.12 L92.50,379.04 L93.00,379.47 L93.50,380.24 L94.00,381.21 L94.50,382.26 L95.00,383.23 L95.50,384.00 L96.00,384.64 L96.50,385.32 L97.00,385.99 L97.50,386.61 L98.00,387.17 L98.50,387.61 L99.00,387.90 L99.50,388.00 L100.00,387.85 L100.50,387.45 L101.00,386.87 L101.50,386.17 L102.00,385.43 L102.50,384.70 L103.00,384.06 L103.50,383.58 L104.00,383.32 L104.50,383.35 L105.00,383.61 L105.50,384.03 L106.00,384.54 L106.50,385.07 L107.00,385.54 L107.50,385.87 L108.00,386.00 L108.50,386.00 L109.00,385.98 L109.50,385.96 L110.00,385.94 L110.50,385.91 L111.00,385.88 L111.50,385.85 L112.00,385.82 L112.50,385.79 L113.00,385.76 L113.50,385.74 L114.00,385.72 L114.50,385.70 L115.00,385.70 L115.50,385.71 L116.00,385.72 L116.50,385.75 L117.00,385.79 L117.50,385.84 L118.00,385.90 L118.50,385.96 L119.00,386.03 L119.50,386.11 L120.00,386.19 L120.50,386.27 L121.00,386.36 L121.50,386.44 L122.00,386.53 L122.50,386.61 L123.00,386.70 L123.50,386.78 L124.00,386.86 L124.50,386.93 L125.00,387.00 L125.50,387.06 L126.00,387.13 L126.50,387.19 L127.00,387.25 L127.50,387.32 L128.00,387.38 L128.50,387.44 L129.00,387.50 L129.50,387.57 L130.00,387.63 L130.50,387.69 L131.00,387.76 L131.50,387.82 L132.00,387.88 L132.50,387.95 L133.00,388.02 L133.50,388.09 L134.00,388.16 L134.50,388.23 L135.00,388.30 L135.50,388.37 L136.00,388.45 L136.50,388.52 L137.00,388.60 L137.50,388.68 L138.00,388.75 L138.50,388.83 L139.00,388.91 L139.50,388.99 L140.00,389.08 L140.50,389.16 L141.00,389.24 L141.50,389.33 L142.00,389.42 L142.50,389.51 L143.00,389.61 L143.50,389.70 L144.00,389.80 L144.50,389.90 L145.00,390.00 L145.50,390.11 L146.00,390.22 L146.50,390.34 L147.00,390.46 L147.50,390.59 L148.00,390.72 L148.50,390.86 L149.00,390.99 L149.50,391.13 L150.00,391.26 L150.50,391.40 L151.00,391.54 L151.50,391.67 L152.00,391.80 L152.50,391.93 L153.00,392.06 L153.50,392.20 L154.00,392.33 L154.50,392.47 L155.00,392.61 L155.50,392.74 L156.00,392.88 L156.50,393.02 L157.00,393.15 L157.50,393.29 L158.00,393.42 L158.50,393.55 L159.00,393.68 L159.50,393.81 L160.00,393.94 L160.50,394.06 L161.00,394.18 L161.50,394.29 L162.00,394.40 L162.50,394.51 L163.00,394.61 L163.50,394.72 L164.00,394.83 L164.50,394.93 L165.00,395.03 L165.50,395.13 L166.00,395.23 L166.50,395.32 L167.00,395.41 L167.50,395.50 L168.00,395.59 L168.50,395.67 L169.00,395.75 L169.50,395.83 L170.00,395.90 L170.50,395.97 L171.00,396.04 L171.50,396.10 L172.00,396.17 L172.50,396.23 L173.00,396.29 L173.50,396.36 L174.00,396.41 L174.50,396.47 L175.00,396.53 L175.50,396.58 L176.00,396.64 L176.50,396.69 L177.00,396.74 L177.50,396.78 L178.00,396.83 L178.50,396.88 L179.00,396.92 L179.50,396.96 L180.00,397.00 L180.50,397.04 L181.00,397.08 L181.50,397.11 L182.00,397.15 L182.50,397.18 L183.00,397.22 L183.50,397.25 L184.00,397.28 L184.50,397.32 L185.00,397.35 L185.50,397.38 L186.00,397.41 L186.50,397.43 L187.00,397.46 L187.50,397.49 L188.00,397.51 L188.50,397.54 L189.00,397.56 L189.50,397.58 L190.00,397.60 L190.50,397.62 L191.00,397.64 L191.50,397.66 L192.00,397.68 L192.50,397.70 L193.00,397.72 L193.50,397.74 L194.00,397.76 L194.50,397.78 L195.00,397.80 L195.50,397.81 L196.00,397.83 L196.50,397.84 L197.00,397.86 L197.50,397.87 L198.00,397.88 L198.50,397.89 L199.00,397.89 L199.50,397.90 L200.00,397.90 L200.50,397.90 L201.00,397.90 L201.50,397.90 L202.00,397.91 L202.50,397.91 L203.00,397.91 L203.50,397.91 L204.00,397.91 L204.50,397.91 L205.00,397.91 L205.50,397.91 L206.00,397.91 L206.50,397.92 L207.00,397.92 L207.50,397.92 L208.00,397.92 L208.50,397.92 L209.00,397.92 L209.50,397.92 L210.00,397.92 L210.50,397.92 L211.00,397.93 L211.50,397.93 L212.00,397.93 L212.50,397.93 L213.00,397.93 L213.50,397.93 L214.00,397.93 L214.50,397.93 L215.00,397.93 L215.50,397.94 L216.00,397.94 L216.50,397.94 L217.00,397.94 L217.50,397.94 L218.00,397.94 L218.50,397.94 L219.00,397.94 L219.50,397.94 L220.00,397.94 L220.50,397.94 L221.00,397.95 L221.50,397.95 L222.00,397.95 L222.50,397.95 L223.00,397.95 L223.50,397.95 L224.00,397.95 L224.50,397.95 L225.00,397.95 L225.50,397.95 L226.00,397.95 L226.50,397.95 L227.00,397.96 L227.50,397.96 L228.00,397.96 L228.50,397.96 L229.00,397.96 L229.50,397.96 L230.00,397.96 L230.50,397.96 L231.00,397.96 L231.50,397.96 L232.00,397.96 L232.50,397.96 L233.00,397.96 L233.50,397.96 L234.00,397.97 L234.50,397.97 L235.00,397.97 L235.50,397.97 L236.00,397.97 L236.50,397.97 L237.00,397.97 L237.50,397.97 L238.00,397.97 L238.50,397.97 L239.00,397.97 L239.50,397.97 L240.00,397.97 L240.50,397.97 L241.00,397.97 L241.50,397.97 L242.00,397.97 L242.50,397.98 L243.00,397.98 L243.50,397.98 L244.00,397.98 L244.50,397.98 L245.00,397.98 L245.50,397.98 L246.00,397.98 L246.50,397.98 L247.00,397.98 L247.50,397.98 L248.00,397.98 L248.50,397.98 L249.00,397.98 L249.50,397.98 L250.00,397.98 L250.50,397.98 L251.00,397.98 L251.50,397.98 L252.00,397.98 L252.50,397.98 L253.00,397.98 L253.50,397.99 L254.00,397.99 L254.50,397.99 L255.00,397.99 L255.50,397.99 L256.00,397.99 L256.50,397.99 L257.00,397.99 L257.50,397.99 L258.00,397.99 L258.50,397.99 L259.00,397.99 L259.50,397.99 L260.00,397.99 L260.50,397.99 L261.00,397.99 L261.50,397.99 L262.00,397.99 L262.50,397.99 L263.00,397.99 L263.50,397.99 L264.00,397.99 L264.50,397.99 L265.00,397.99 L265.50,397.99 L266.00,397.99 L266.50,397.99 L267.00,397.99 L267.50,397.99 L268.00,397.99 L268.50,397.99 L269.00,397.99 L269.50,397.99 L270.00,397.99 L270.50,397.99 L271.00,398.00 L271.50,398.00 L272.00,398.00 L272.50,398.00 L273.00,398.00 L273.50,398.00 L274.00,398.00 L274.50,398.00 L275.00,398.00 L275.50,398.00 L276.00,398.00 L276.50,398.00 L277.00,398.00 L277.50,398.00 L278.00,398.00 L278.50,398.00 L279.00,398.00 L279.50,398.00 L280.00,398.00 L280.50,398.00 L281.00,398.00 L281.50,398.00 L282.00,398.00 L282.50,398.00 L283.00,398.00 L283.50,398.00 L284.00,398.00 L284.50,398.00 L285.00,398.00 L285.50,398.00 L286.00,398.00 L286.50,398.00 L287.00,398.00 L287.50,398.00 L288.00,398.00 L288.50,398.00 L289.00,398.00 L289.50,398.00 L290.00,398.00 L290.50,398.00 L291.00,398.00 L291.50,398.00 L292.00,398.00 L292.50,398.00 L293.00,398.00 L293.50,398.00 L294.00,398.00 L294.50,398.00 L295.00,398.00 L295.50,398.00 L296.00,398.00 L296.50,398.00 L297.00,398.00 L297.50,398.00 L298.00,398.00 L298.50,398.00 L299.00,398.00 L299.50,398.00 L300.00,398.00 L300.50,398.00 L301.00,398.00 L301.50,398.00 L302.00,398.00 L302.50,398.00 L303.00,398.00 L303.50,398.00 L304.00,398.00 L304.50,398.00 L305.00,397.99 L305.50,397.99 L306.00,397.99 L306.50,397.99 L307.00,397.99 L307.50,397.99 L308.00,397.99 L308.50,397.99 L309.00,397.98 L309.50,397.98 L310.00,397.98 L310.50,397.98 L311.00,397.98 L311.50,397.97 L312.00,397.97 L312.50,397.97 L313.00,397.97 L313.50,397.96 L314.00,397.96 L314.50,397.96 L315.00,397.96 L315.50,397.95 L316.00,397.95 L316.50,397.95 L317.00,397.94 L317.50,397.94 L318.00,397.94 L318.50,397.93 L319.00,397.93 L319.50,397.93 L320.00,397.92 L320.50,397.92 L321.00,397.91 L321.50,397.91 L322.00,397.91 L322.50,397.90 L323.00,397.90 L323.50,397.89 L324.00,397.89 L324.50,397.89 L325.00,397.88 L325.50,397.88 L326.00,397.87 L326.50,397.87 L327.00,397.86 L327.50,397.86 L328.00,397.85 L328.50,397.85 L329.00,397.84 L329.50,397.84 L330.00,397.83 L330.50,397.83 L331.00,397.82 L331.50,397.82 L332.00,397.81 L332.50,397.80 L333.00,397.80 L333.50,397.79 L334.00,397.79 L334.50,397.78 L335.00,397.77 L335.50,397.77 L336.00,397.76 L336.50,397.76 L337.00,397.75 L337.50,397.74 L338.00,397.74 L338.50,397.73 L339.00,397.72 L339.50,397.72 L340.00,397.71 L340.50,397.70 L341.00,397.70 L341.50,397.69 L342.00,397.68 L342.50,397.68 L343.00,397.67 L343.50,397.66 L344.00,397.66 L344.50,397.65 L345.00,397.64 L345.50,397.63 L346.00,397.63 L346.50,397.62 L347.00,397.61 L347.50,397.60 L348.00,397.60 L348.50,397.59 L349.00,397.58 L349.50,397.57 L350.00,397.57 L350.50,397.56 L351.00,397.55 L351.50,397.54 L352.00,397.53 L352.50,397.53 L353.00,397.52 L353.50,397.51 L354.00,397.50 L354.50,397.49 L355.00,397.49 L355.50,397.48 L356.00,397.47 L356.50,397.46 L357.00,397.45 L357.50,397.44 L358.00,397.43 L358.50,397.43 L359.00,397.42 L359.50,397.41 L360.00,397.40 L360.50,397.39 L361.00,397.38 L361.50,397.37 L362.00,397.36 L362.50,397.35 L363.00,397.34 L363.50,397.32 L364.00,397.31 L364.50,397.30 L365.00,397.28 L365.50,397.27 L366.00,397.25 L366.50,397.24 L367.00,397.22 L367.50,397.21 L368.00,397.19 L368.50,397.17 L369.00,397.15 L369.50,397.14 L370.00,397.12 L370.50,397.10 L371.00,397.08 L371.50,397.06 L372.00,397.04 L372.50,397.02 L373.00,396.99 L373.50,396.97 L374.00,396.95 L374.50,396.93 L375.00,396.90 L375.50,396.88 L376.00,396.86 L376.50,396.83 L377.00,396.81 L377.50,396.78 L378.00,396.76 L378.50,396.73 L379.00,396.71 L379.50,396.68 L380.00,396.66 L380.50,396.63 L381.00,396.60 L381.50,396.58 L382.00,396.55 L382.50,396.52 L383.00,396.49 L383.50,396.47 L384.00,396.44 L384.50,396.41 L385.00,396.38 L385.50,396.35 L386.00,396.32 L386.50,396.29 L387.00,396.26 L387.50,396.23 L388.00,396.20 L388.50,396.17 L389.00,396.13 L389.50,396.10 L390.00,396.06 L390.50,396.02 L391.00,395.98 L391.50,395.94 L392.00,395.90 L392.50,395.86 L393.00,395.81 L393.50,395.77 L394.00,395.73 L394.50,395.68 L395.00,395.64 L395.50,395.59 L396.00,395.54 L396.50,395.49 L397.00,395.44 L397.50,395.39 L398.00,395.34 L398.50,395.29 L399.00,395.24 L399.50,395.19 L400.00,395.14 L400.50,395.09 L401.00,395.03 L401.50,394.98 L402.00,394.93 L402.50,394.87 L403.00,394.82 L403.50,394.76 L404.00,394.71 L404.50,394.65 L405.00,394.60 L405.50,394.54 L406.00,394.49 L406.50,394.43 L407.00,394.38 L407.50,394.32 L408.00,394.26 L408.50,394.20 L409.00,394.14 L409.50,394.08 L410.00,394.02 L410.50,393.96 L411.00,393.90 L411.50,393.84 L412.00,393.77 L412.50,393.71 L413.00,393.64 L413.50,393.58 L414.00,393.51 L414.50,393.44 L415.00,393.37 L415.50,393.30 L416.00,393.22 L416.50,393.15 L417.00,393.07 L417.50,392.99 L418.00,392.92 L418.50,392.84 L419.00,392.75 L419.50,392.67 L420.00,392.59 L420.50,392.50 L421.00,392.41 L421.50,392.31 L422.00,392.21 L422.50,392.10 L423.00,391.99 L423.50,391.88 L424.00,391.76 L424.50,391.64 L425.00,391.52 L425.50,391.39 L426.00,391.27 L426.50,391.14 L427.00,391.02 L427.50,390.89 L428.00,390.77 L428.50,390.65 L429.00,390.53 L429.50,390.41 L430.00,390.30 L430.50,390.19 L431.00,390.08 L431.50,389.96 L432.00,389.85 L432.50,389.74 L433.00,389.62 L433.50,389.51 L434.00,389.40 L434.50,389.29 L435.00,389.18 L435.50,389.07 L436.00,388.96 L436.50,388.85 L437.00,388.75 L437.50,388.65 L438.00,388.55 L438.50,388.46 L439.00,388.37 L439.50,388.28 L440.00,388.20 L440.50,388.12 L441.00,388.04 L441.50,387.97 L442.00,387.90 L442.50,387.83 L443.00,387.76 L443.50,387.70 L444.00,387.63 L444.50,387.57 L445.00,387.51 L445.50,387.44 L446.00,387.38 L446.50,387.32 L447.00,387.26 L447.50,387.20 L448.00,387.14 L448.50,387.08 L449.00,387.02 L449.50,386.96 L450.00,386.90 L450.50,386.84 L451.00,386.77 L451.50,386.71 L452.00,386.65 L452.50,386.59 L453.00,386.52 L453.50,386.46 L454.00,386.40 L454.50,386.33 L455.00,386.27 L455.50,386.21 L456.00,386.15 L456.50,386.09 L457.00,386.03 L457.50,385.97 L458.00,385.92 L458.50,385.86 L459.00,385.81 L459.50,385.75 L460.00,385.70 L460.50,385.65 L461.00,385.60 L461.50,385.55 L462.00,385.50 L462.50,385.45 L463.00,385.40 L463.50,385.36 L464.00,385.31 L464.50,385.26 L465.00,385.22 L465.50,385.18 L466.00,385.13 L466.50,385.09 L467.00,385.05 L467.50,385.00 L468.00,384.96 L468.50,384.92 L469.00,384.88 L469.50,384.84 L470.00,384.80 L470.50,384.76 L471.00,384.72 L471.50,384.68 L472.00,384.65 L472.50,384.61 L473.00,384.57 L473.50,384.53 L474.00,384.50 L474.50,384.46 L475.00,384.43 L475.50,384.39 L476.00,384.36 L476.50,384.32 L477.00,384.29 L477.50,384.26 L478.00,384.22 L478.50,384.19 L479.00,384.16 L479.50,384.13 L480.00,384.10" fill="none" stroke="#000" stroke-width="1.4" stroke-dasharray="5.9,3.7" stroke-dashoffset="9.40"/>
<path d="M67.00,391.90 L67.50,350.00 L69.30,318.00 L70.60,312.40 L71.90,318.00 L73.50,360.00 L75.90,404.70 L77.30,390.00 L78.80,373.50 L80.40,385.00 L82.30,400.90 L83.90,408.60 L85.50,409.20 L87.10,414.90 L89.30,404.70 L91.20,412.40 L93.40,399.60 L95.00,399.00 L96.60,396.50 L97.90,396.50 L99.80,399.00 L102.00,392.00 L104.00,389.80 L107.30,389.20 L109.70,391.60 L113.00,392.90 L116.30,392.50 L118.70,393.70 L121.20,392.00 L126.10,391.20 L130.20,392.50 L133.30,393.40 L138.00,392.50 L144.70,391.80 L150.00,392.60 L160.00,392.50 L300.00,392.30 L480.00,392.00" fill="none" stroke="#ff0000" stroke-width="1.45" stroke-linejoin="round"/>
<text transform="translate(61.2,296.10) scale(1,1.05)" text-anchor="end" font-size="15.4">0.02</text>
<text transform="translate(61.2,347.45) scale(1,1.05)" text-anchor="end" font-size="15.4">0.01</text>
<text transform="translate(61.2,398.80) scale(1,1.05)" text-anchor="end" font-size="15.4">0</text>
<text transform="translate(61.2,450.15) scale(1,1.05)" text-anchor="end" font-size="15.4">-0.01</text>
<text transform="translate(61.2,501.50) scale(1,1.05)" text-anchor="end" font-size="15.4">-0.02</text>
<text transform="translate(67.00,516.10) scale(1,1.07)" text-anchor="middle" font-size="15.4">0</text>
<text transform="translate(135.92,516.10) scale(1,1.07)" text-anchor="middle" font-size="15.4">0.5</text>
<text transform="translate(204.83,516.10) scale(1,1.07)" text-anchor="middle" font-size="15.4">1</text>
<text transform="translate(273.75,516.10) scale(1,1.07)" text-anchor="middle" font-size="15.4">1.5</text>
<text transform="translate(342.67,516.10) scale(1,1.07)" text-anchor="middle" font-size="15.4">2</text>
<text transform="translate(411.58,516.10) scale(1,1.07)" text-anchor="middle" font-size="15.4">2.5</text>
<text transform="translate(480.50,516.10) scale(1,1.07)" text-anchor="middle" font-size="15.4">3</text>
<text transform="translate(275.4,539.30) scale(1,1.06)" text-anchor="middle" font-size="17.7">t(s)</text>
<text transform="translate(18.6,391.60) rotate(-90) scale(1,1.07)" text-anchor="middle" font-size="17.5">position error(rad)</text>
<rect x="364.5" y="293.2" width="113.2" height="58" fill="#fff" stroke="#9a9a9a" stroke-width="1.1"/>
<line x1="366.7" y1="303.5" x2="385" y2="303.5" stroke="#0000ff" stroke-width="1.4" stroke-dasharray="4.9,1.9,1.0,1.7"/>
<line x1="366.7" y1="322.4" x2="385" y2="322.4" stroke="#000" stroke-width="1.4" stroke-dasharray="5.9,3.7"/>
<line x1="366.7" y1="341.1" x2="385" y2="341.1" stroke="#ff0000" stroke-width="2"/>
<text x="387.3" y="309.30" font-size="14.1">PID-IDA-PBC</text>
<text x="387.3" y="328.20" font-size="14.1">IHSMC</text>
<text x="387.3" y="346.90" font-size="14.1">Hybrid control</text>
</svg></body></html>
